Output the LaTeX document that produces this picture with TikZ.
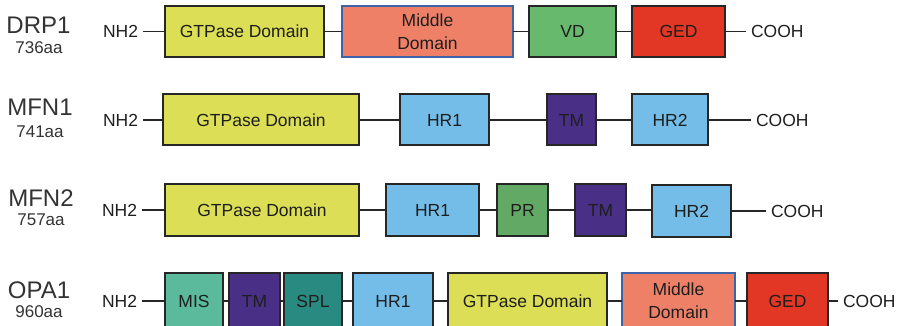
\documentclass[tikz,border=0pt]{standalone}
\usepackage{fontspec}
\setmainfont{Liberation Sans}

\definecolor{gtp}{HTML}{DCDE56}
\definecolor{mid}{HTML}{EE8068}
\definecolor{midedge}{HTML}{3A63A8}
\definecolor{vd}{HTML}{67B96E}
\definecolor{ged}{HTML}{E23724}
\definecolor{hr}{HTML}{73BDE8}
\definecolor{tm}{HTML}{4A2F87}
\definecolor{pr}{HTML}{63A966}
\definecolor{mis}{HTML}{5CBA9C}
\definecolor{spl}{HTML}{288A80}
\definecolor{edge}{HTML}{262626}
\definecolor{txt}{HTML}{1E1E1E}
\definecolor{lab}{HTML}{333333}

\newcommand\boxfont{\fontsize{17.5}{23}\selectfont}
\newcommand\labfont{\fontsize{24}{28}\selectfont}
\newcommand\aafont{\fontsize{17}{20}\selectfont}

\tikzset{
  dom/.style={draw=edge, line width=2pt, inner sep=0pt, outer sep=0pt,
    anchor=west, text=txt, font=\boxfont, align=center},
  middom/.style={dom, fill=mid, draw=midedge, line width=1.6pt},
  link/.style={draw=edge, line width=1.8pt},
  term/.style={inner sep=0pt, outer sep=5pt, anchor=west, text=txt,
    font=\boxfont},
  pname/.style={inner sep=0pt, text=lab, font=\labfont},
  plen/.style={inner sep=0pt, text=lab, font=\aafont},
}

\begin{document}
\begin{tikzpicture}[x=1pt,y=-1pt]
\clip (0,0) rectangle (900,326);

% ---------------- DRP1 ----------------
\node[pname] (l1) at (38.5,25) {DRP1};
\node[plen]  (a1) at (39,48) {736aa};
\node[term] (n1) at (98,31.5) {NH2};
\node[dom, fill=gtp, minimum width=159pt, minimum height=51pt] (d1g) at (165,31.5) {GTPase Domain};
\node[middom, minimum width=171pt, minimum height=51pt] (d1m) at (342,31.5) {Middle\\Domain};
\node[dom, fill=vd, minimum width=87pt, minimum height=51pt] (d1v) at (529,31.5) {VD};
\node[dom, fill=ged, minimum width=93pt, minimum height=51pt] (d1e) at (632,31.5) {GED};
\node[term] (c1) at (746,31.5) {COOH};
\draw[link] (n1) -- (d1g);
\draw[link] (d1g) -- (d1m);
\draw[link] (d1m) -- (d1v);
\draw[link] (d1v) -- (d1e);
\draw[link] (d1e) -- (c1);

% ---------------- MFN1 ----------------
\node[pname] (l2) at (40,107) {MFN1};
\node[plen]  (a2) at (40,132) {741aa};
\node[term] (n2) at (98,120) {NH2};
\node[dom, fill=gtp, minimum width=196pt, minimum height=51pt] (d2g) at (163,120) {GTPase Domain};
\node[dom, fill=hr, minimum width=89pt, minimum height=51pt] (d2h) at (400,120) {HR1};
\node[dom, fill=tm, minimum width=49pt, minimum height=51pt] (d2t) at (547,120) {TM};
\node[dom, fill=hr, minimum width=76pt, minimum height=51pt] (d2k) at (632,120) {HR2};
\node[term] (c2) at (751,120) {COOH};
\draw[link] (n2) -- (d2g);
\draw[link] (d2g) -- (d2h);
\draw[link] (d2h) -- (d2t);
\draw[link] (d2t) -- (d2k);
\draw[link] (d2k) -- (c2);

% ---------------- MFN2 ----------------
\node[pname] (l3) at (41,198) {MFN2};
\node[plen]  (a3) at (41,220) {757aa};
\node[term] (n3) at (97,210) {NH2};
\node[dom, fill=gtp, minimum width=194pt, minimum height=51pt] (d3g) at (165,210) {GTPase Domain};
\node[dom, fill=hr, minimum width=93pt, minimum height=51pt] (d3h) at (386,210) {HR1};
\node[dom, fill=pr, minimum width=51pt, minimum height=51pt] (d3p) at (497,210) {PR};
\node[dom, fill=tm, minimum width=51pt, minimum height=51pt] (d3t) at (575,210) {TM};
\node[dom, fill=hr, minimum width=79pt, minimum height=52pt] (d3k) at (652,211) {HR2};
\node[term] (c3) at (766,211) {COOH};
\draw[link] (n3) -- (d3g);
\draw[link] (d3g) -- (d3h);
\draw[link] (d3h) -- (d3p);
\draw[link] (d3p) -- (d3t);
\draw[link] (d3t) -- (d3k.west |- d3t);
\draw[link] (d3k) -- (c3);

% ---------------- OPA1 ----------------
\node[pname] (l4) at (39,290) {OPA1};
\node[plen]  (a4) at (39,312) {960aa};
\node[term] (n4) at (97,301) {NH2};
\node[dom, fill=mis, minimum width=58pt, minimum height=56pt] (d4a) at (165,301) {MIS};
\node[dom, fill=tm, minimum width=51pt, minimum height=56pt] (d4b) at (229,301) {TM};
\node[dom, fill=spl, minimum width=58pt, minimum height=56pt] (d4c) at (284,301) {SPL};
\node[dom, fill=hr, minimum width=80pt, minimum height=56pt] (d4d) at (353,301) {HR1};
\node[dom, fill=gtp, minimum width=159pt, minimum height=56pt] (d4e) at (448,301) {GTPase Domain};
\node[middom, minimum width=113pt, minimum height=56pt] (d4f) at (622,301) {Middle\\Domain};
\node[dom, fill=ged, minimum width=81pt, minimum height=56pt] (d4g) at (747,301) {GED};
\node[term] (c4) at (838,301) {COOH};
\draw[link] (n4) -- (d4a);
\draw[link] (d4a) -- (d4b);
\draw[link] (d4b) -- (d4c);
\draw[link] (d4c) -- (d4d);
\draw[link] (d4d) -- (d4e);
\draw[link] (d4e) -- (d4f);
\draw[link] (d4f) -- (d4g);
\draw[link] (d4g) -- (c4);
\end{tikzpicture}
\end{document}
